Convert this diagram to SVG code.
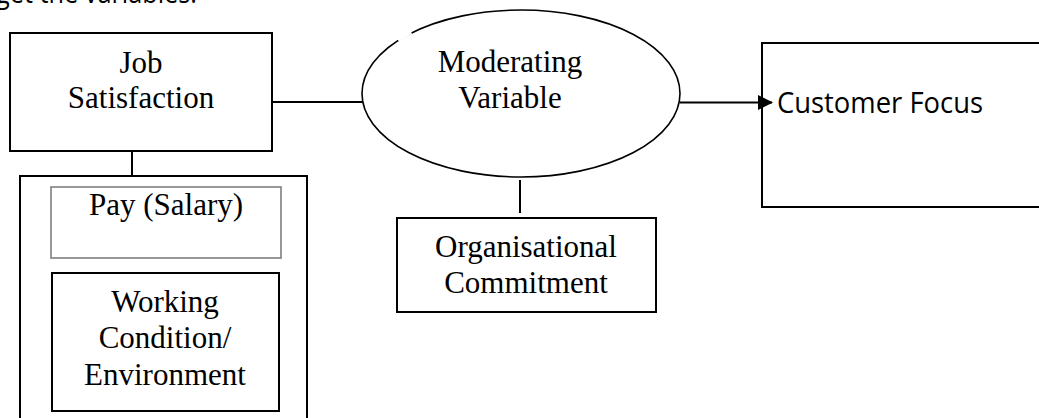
<svg xmlns="http://www.w3.org/2000/svg" width="1039" height="418" viewBox="0 0 1039 418">
  <style>
    .box { fill: #fff; stroke: #000; stroke-width: 2; }
    .thin { fill: #fff; stroke: #7f7f7f; stroke-width: 1.6; }
    .serif { font-family: "Liberation Serif", "Times New Roman", serif; font-size: 31px; fill: #000; text-anchor: middle; }
    .sans { font-family: "Open Sans", "Noto Sans", sans-serif; font-size: 30px; fill: #000; }
    .conn { stroke: #000; stroke-width: 2; fill: none; }
  </style>
  <defs>
    <marker id="arrow" markerWidth="15" markerHeight="15" refX="14" refY="7.5" orient="auto" markerUnits="userSpaceOnUse">
      <path d="M0,0 L15,7.5 L0,15 Z" fill="#000"/>
    </marker>
  </defs>
  <rect width="1039" height="418" fill="#fff"/>

  <!-- running text above the figure, cut by the page edge -->
  <text x="-4" y="3" class="sans" font-size="32" textLength="201" lengthAdjust="spacingAndGlyphs">get the variables.</text>

  <g id="job-satisfaction">
    <rect class="box" x="10" y="33" width="262" height="118"/>
    <text class="serif" x="141" y="73">Job</text>
    <text class="serif" x="141" y="108">Satisfaction</text>
  </g>

  <g id="moderating-variable">
    <ellipse cx="521" cy="93.5" rx="159" ry="83.5" fill="#fff" stroke="#000" stroke-width="1.6"/>
    <line x1="398" y1="40" x2="411" y2="32" stroke="#fff" stroke-width="4"/>
    <text class="serif" x="510" y="72">Moderating</text>
    <text class="serif" x="510" y="108">Variable</text>
  </g>

  <g id="customer-focus">
    <rect class="box" x="762" y="43" width="300" height="164"/>
    <text class="sans" x="777" y="113" textLength="206" lengthAdjust="spacingAndGlyphs">Customer Focus</text>
  </g>

  <g id="organisational-commitment">
    <rect class="box" x="397" y="218" width="259" height="94"/>
    <text class="serif" x="526" y="257">Organisational</text>
    <text class="serif" x="526" y="293">Commitment</text>
  </g>

  <g id="job-factors">
    <rect class="box" x="20" y="176" width="287" height="260"/>
  </g>

  <g id="pay">
    <rect class="thin" x="51" y="187" width="230" height="71"/>
    <text class="serif" x="166" y="215">Pay (Salary)</text>
  </g>

  <g id="working-condition">
    <rect class="box" x="52" y="273" width="227" height="138"/>
    <text class="serif" x="165" y="312">Working</text>
    <text class="serif" x="165" y="348">Condition/</text>
    <text class="serif" x="165" y="385">Environment</text>
  </g>

  <!-- connectors, drawn last so the arrowhead sits over the box edge -->
  <g id="connectors">
    <line class="conn" x1="132" y1="151" x2="132" y2="176"/>
    <line class="conn" x1="272" y1="102" x2="363" y2="102"/>
    <line class="conn" x1="680" y1="102.5" x2="772" y2="102.5" marker-end="url(#arrow)"/>
    <line class="conn" x1="520" y1="180" x2="520" y2="213"/>
  </g>
</svg>
